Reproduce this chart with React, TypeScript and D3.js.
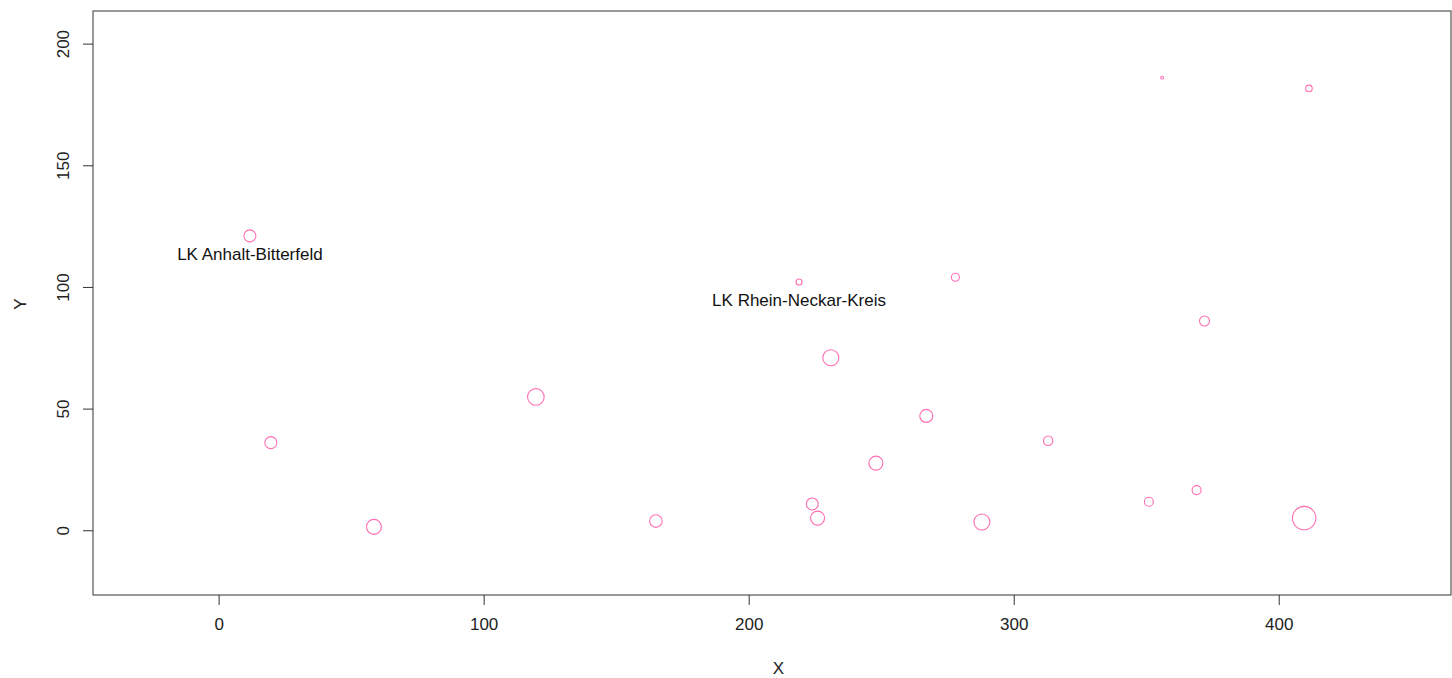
import React, { useEffect, useRef } from "react";
import * as d3 from "d3";

// point values
const xValues = [11.8, 19.7, 58.6, 119.7, 165, 219, 224, 226, 231, 248, 267, 278, 288, 313, 351, 369, 372, 356, 411.4, 409.6];
const yValues = [121, 36, 1.4, 54.8, 3.8, 102, 10.8, 5, 70.9, 27.6, 47, 104, 3.4, 36.8, 11.7, 16.5, 86, 186, 181.6, 5];
const sizeValues = [6, 6, 7.5, 8.3, 6.3, 3, 6, 7, 8, 7, 6.5, 4, 8, 4.7, 4.5, 4.5, 5, 1.4, 3.3, 11.7];
const pointLabels = ["LK Anhalt-Bitterfeld", "", "", "", "", "LK Rhein-Neckar-Kreis", "", "", "", "", "", "", "", "", "", "", "", "", "", ""];

const xTicks = [0, 100, 200, 300, 400];
const yTicks = [0, 50, 100, 150, 200];

const W = 1452;
const H = 678;
const box = { left: 93, top: 11, right: 1451, bottom: 595 };
const FONT = "'Liberation Sans', Arial, sans-serif";

export default function App() {
  const svgRef = useRef<SVGSVGElement | null>(null);

  useEffect(() => {
    const svg = d3.select(svgRef.current);
    svg.selectAll("*").remove();

    // associates numbers to pixels
    const x = d3.scaleLinear().domain([-47.4, 465]).range([box.left, box.right]);
    const y = d3.scaleLinear().domain([-26.6, 213.4]).range([box.bottom, box.top]);
    const r = d3.scaleLinear().domain([0, d3.max(sizeValues) as number]).range([0, 11.7]);

    svg.append("rect")
      .attr("x", box.left).attr("y", box.top)
      .attr("width", box.right - box.left).attr("height", box.bottom - box.top)
      .attr("fill", "none").attr("stroke", "#333").attr("stroke-width", 1);

    // x axis
    const xAxis = d3.axisBottom(x).tickValues(xTicks).tickSize(10).tickSizeOuter(0).tickPadding(13);
    const gX = svg.append("g").attr("transform", `translate(0, ${box.bottom})`).call(xAxis);
    gX.select(".domain").remove();
    gX.selectAll(".tick line").attr("stroke", "#333");
    gX.selectAll(".tick text").attr("font-family", FONT).attr("font-size", 17).attr("fill", "#222");

    // y axis, labels rotated like base R
    const yAxis = d3.axisLeft(y).tickValues(yTicks).tickSize(10).tickSizeOuter(0);
    const gY = svg.append("g").attr("transform", `translate(${box.left}, 0)`).call(yAxis);
    gY.select(".domain").remove();
    gY.selectAll(".tick line").attr("stroke", "#333");
    gY.selectAll(".tick text")
      .attr("x", null).attr("dy", null)
      .attr("transform", "translate(-24, 0) rotate(-90)")
      .attr("text-anchor", "middle")
      .attr("font-family", FONT).attr("font-size", 17).attr("fill", "#222");

    // axis titles
    svg.append("text").attr("x", 778.5).attr("y", 674)
      .attr("text-anchor", "middle").attr("font-family", FONT).attr("font-size", 17).attr("fill", "#222")
      .text("X");
    svg.append("text").attr("transform", "translate(26, 304) rotate(-90)")
      .attr("text-anchor", "middle").attr("font-family", FONT).attr("font-size", 17).attr("fill", "#222")
      .text("Y");

    const idx = d3.range(xValues.length);

    svg.append("g").selectAll("circle").data(idx).join("circle")
      .attr("cx", (i) => x(xValues[i]))
      .attr("cy", (i) => y(yValues[i]))
      .attr("r", (i) => r(sizeValues[i]))
      .attr("fill", "none")
      .attr("stroke", "#FF6EB4")
      .attr("stroke-width", 1.1);

    svg.append("g").selectAll("text").data(idx.filter((i) => pointLabels[i] !== "")).join("text")
      .attr("x", (i) => x(xValues[i]))
      .attr("y", (i) => y(yValues[i]) + 18)
      .attr("dy", "0.35em")
      .attr("text-anchor", "middle")
      .attr("font-family", FONT).attr("font-size", 17).attr("fill", "#111")
      .text((i) => pointLabels[i]);
  }, []);

  return (
    <svg
      ref={svgRef}
      width={W}
      height={H}
      style={{ position: "absolute", left: 0, top: 0, background: "#fff" }}
    />
  );
}
